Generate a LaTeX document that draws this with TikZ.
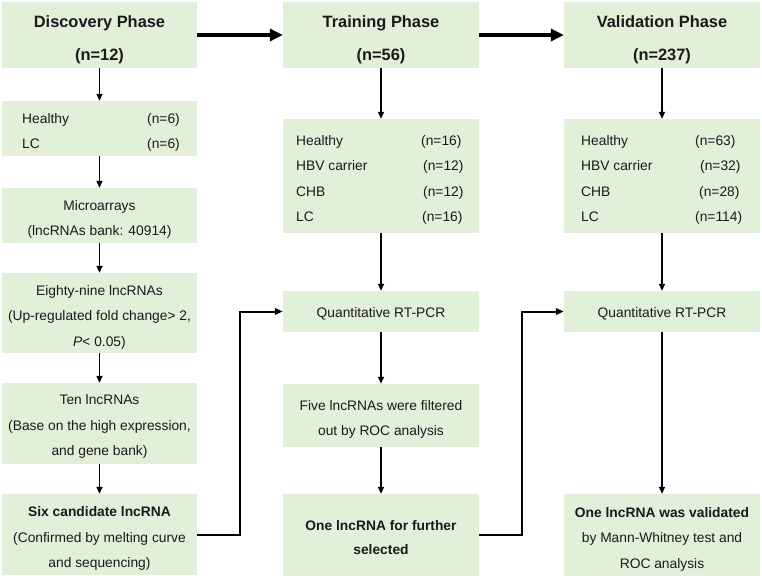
\documentclass[tikz,border=0pt]{standalone}
\usepackage{fontspec}
\setmainfont{Liberation Sans}
\usetikzlibrary{arrows.meta}
\definecolor{boxgreen}{HTML}{E2EFD9}
\definecolor{ink}{HTML}{1A1A1A}
\tikzset{
  box/.style={fill=boxgreen, draw=none, inner sep=0pt, minimum width=196pt},
  txt/.style={inner sep=0pt, align=center, text=ink, font=\fontsize{13.8}{25.5}\selectfont},
  ttl/.style={inner sep=0pt, align=center, text=ink, font=\bfseries\fontsize{16.4}{33}\selectfont},
  lbl/.style={anchor=base west, inner sep=0pt, text=ink, font=\fontsize{13.8}{16}\selectfont},
  bigarr/.style={line width=3.2pt, -{Triangle[length=13pt,width=12pt]}},
  varr/.style={line width=1.5pt, -{Triangle[length=7pt,width=6pt]}},
  earr/.style={line width=2pt, -{Triangle[length=8pt,width=6.5pt]}},
}
\begin{document}
\begin{tikzpicture}[x=1pt,y=-1pt]
\useasboundingbox (0,0) rectangle (762,578);
% Discovery column
\node[box, minimum width=195pt, minimum height=66pt] (d0) at (99.5,35) {};
\node[ttl] (d0t) at ([yshift=-5pt]d0.center) {Discovery Phase\\(n=12)};
\node[box, minimum width=195pt, minimum height=55pt] (d1) at (99.5,128.5) {};
\node[lbl] (d1a) at (22,123) {Healthy};
\node[lbl] (d1b) at (147,123) {(n=6)};
\node[lbl] (d1c) at (22,148) {LC};
\node[lbl] (d1d) at (147,148) {(n=6)};
\node[box, minimum width=195pt, minimum height=55pt] (d2) at (99.5,215.5) {};
\node[txt] (d2t) at ([yshift=-4pt]d2.center) {Microarrays\\(lncRNAs bank: 40914)};
\node[box, minimum width=195pt, minimum height=80pt] (d3) at (99.5,313) {};
\node[txt] (d3t) at ([yshift=-4pt]d3.center) {Eighty-nine lncRNAs\\(Up-regulated fold change> 2,\\\textit{P}< 0.05)};
\node[box, minimum width=195pt, minimum height=81pt] (d4) at (99.5,423.5) {};
\node[txt] (d4t) at ([yshift=-3pt]d4.center) {Ten lncRNAs\\(Base on the high expression,\\and gene bank)};
\node[box, minimum width=195pt, minimum height=81pt] (d5) at (99.5,534.5) {};
\node[txt] (d5t) at ([yshift=-4pt]d5.center) {\textbf{Six candidate lncRNA}\\(Confirmed by melting curve\\and sequencing)};
% Training column
\node[box, minimum height=66pt] (t0) at (381,35) {};
\node[ttl] (t0t) at ([yshift=-5pt]t0.center) {Training Phase\\(n=56)};
\node[box, minimum height=114pt] (t1) at (381,176) {};
\node[lbl] (t1a) at (296,145.5) {Healthy};
\node[lbl] (t1b) at (421,145.5) {(n=16)};
\node[lbl] (t1c) at (296,170.7) {HBV carrier};
\node[lbl] (t1d) at (423,170.7) {(n=12)};
\node[lbl] (t1e) at (296,196) {CHB};
\node[lbl] (t1f) at (423,196) {(n=12)};
\node[lbl] (t1g) at (296,221) {LC};
\node[lbl] (t1h) at (422,221) {(n=16)};
\node[box, minimum height=41pt] (t2) at (381,311.5) {};
\node[txt] (t2t) at ([yshift=-2.5pt]t2.center) {Quantitative RT-PCR};
\node[box, minimum height=63pt] (t3) at (381,415.5) {};
\node[txt] (t3t) at ([yshift=-4pt]t3.center) {Five lncRNAs were filtered\\out by ROC analysis};
\node[box, minimum height=82pt] (t4) at (381,535) {};
\node[txt, font=\bfseries\fontsize{13.8}{24}\selectfont] (t4t) at ([yshift=-2.5pt]t4.center) {One lncRNA for further\\selected};
% Validation column
\node[box, minimum height=66pt] (v0) at (662,35) {};
\node[ttl] (v0t) at ([yshift=-5pt]v0.center) {Validation Phase\\(n=237)};
\node[box, minimum height=114pt] (v1) at (662,176) {};
\node[lbl] (v1a) at (581,145.5) {Healthy};
\node[lbl] (v1b) at (695,145.5) {(n=63)};
\node[lbl] (v1c) at (581,170.7) {HBV carrier};
\node[lbl] (v1d) at (700,170.7) {(n=32)};
\node[lbl] (v1e) at (581,196) {CHB};
\node[lbl] (v1f) at (699,196) {(n=28)};
\node[lbl] (v1g) at (581,221) {LC};
\node[lbl] (v1h) at (695,221) {(n=114)};
\node[box, minimum height=41pt] (v2) at (662,311.5) {};
\node[txt] (v2t) at ([yshift=-2.5pt]v2.center) {Quantitative RT-PCR};
\node[box, minimum height=82pt] (v3) at (662,535) {};
\node[txt] (v3t) at ([yshift=-4pt]v3.center) {\textbf{One lncRNA was validated}\\by Mann-Whitney test and\\ROC analysis};
% arrows
\draw[bigarr] (d0.east) -- (t0.west);
\draw[bigarr] (t0.east) -- (v0.west);
\draw[varr] (d0) -- (d1);
\draw[varr] (d1) -- (d2);
\draw[varr] (d2) -- (d3);
\draw[varr] (d3) -- (d4);
\draw[varr] (d4) -- (d5);
\draw[varr] (t0) -- (t1);
\draw[varr] (t1) -- (t2);
\draw[varr] (t2) -- (t3);
\draw[varr] (t3) -- (t4);
\draw[varr] (v0) -- (v1);
\draw[varr] (v1) -- (v2);
\draw[varr] (v2) -- (v3);
\draw[earr] (d5.east) -- ++(43,0) |- (t2.west);
\draw[earr] (t4.east) -- ++(43,0) |- (v2.west);
\end{tikzpicture}
\end{document}
